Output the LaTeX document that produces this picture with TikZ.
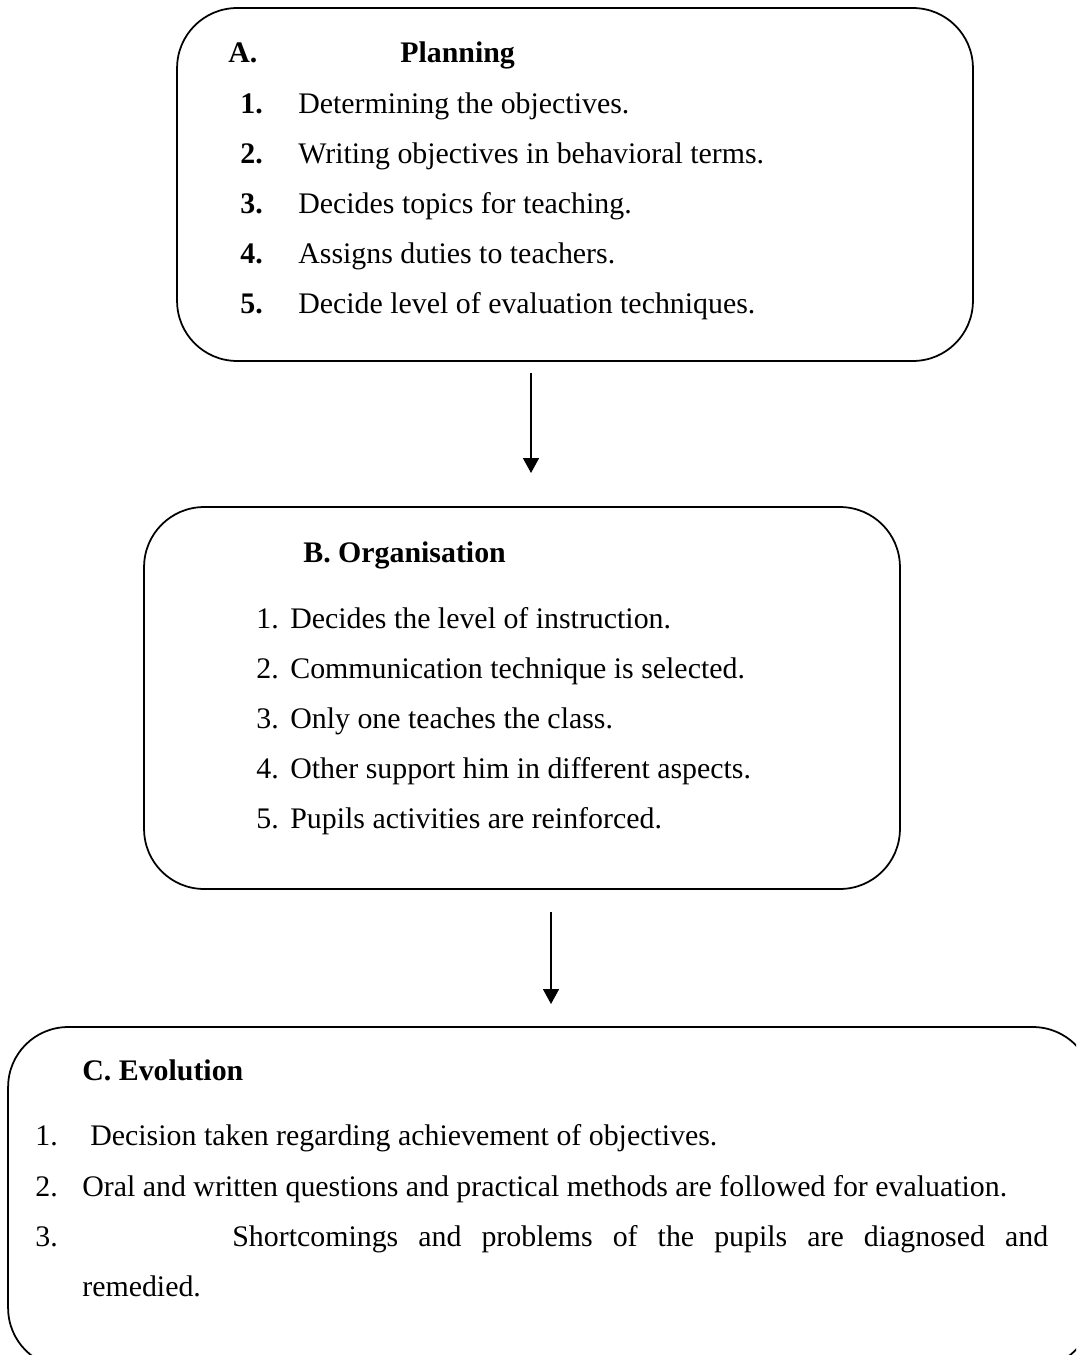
\documentclass[tikz,border=0pt]{standalone}
\usepackage{fontspec}
\setmainfont{Liberation Serif}
\usetikzlibrary{arrows.meta}
\tikzset{
    box/.style={draw, rectangle, rounded corners=1.2cm, line width=1pt, inner sep=0pt},
    item/.style={anchor=base west, inner sep=0pt, font=\fontsize{17}{20}\selectfont},
    head/.style={item, font=\fontsize{17}{20}\selectfont\bfseries},
    arrow/.style={line width=0.9pt, -{Triangle[length=0.3cm, width=0.32cm]}}
}
\begin{document}
\begin{tikzpicture}[x=0.02cm, y=-0.02cm]
\useasboundingbox (0,0) rectangle (1076,1355);
\clip (0,0) rectangle (1076,1355);
% boxes
\node[box, minimum width=15.92cm, minimum height=7.06cm] (plan) at (575,184.5) {};
\node[box, minimum width=15.12cm, minimum height=7.64cm] (org) at (522,698) {};
\node[box, minimum width=21.7cm, minimum height=6.82cm] (evol) at (550.5,1197.5) {};
% A. Planning
\node[head] (planA) at (228,63) {A.};
\node[head] (planT) at (400,63) {Planning};
\foreach \t [count=\i] in {Determining the objectives.,
    Writing objectives in behavioral terms.,
    Decides topics for teaching.,
    Assigns duties to teachers.,
    Decide level of evaluation techniques.} {
  \node[head] (planN\i) at (240,63+50*\i) {\i.};
  \node[item] (plan\i) at (298,63+50*\i) {\t};
}
% B. Organisation
\node[head] (orgT) at (303,562) {B. Organisation};
\foreach \t [count=\i] in {Decides the level of instruction.,
    Communication technique is selected.,
    Only one teaches the class.,
    Other support him in different aspects.,
    Pupils activities are reinforced.} {
  \node[item] (orgN\i) at (256,578+50*\i) {\i.};
  \node[item] (org\i) at (290,578+50*\i) {\t};
}
% C. Evolution
\node[head] (evolT) at (82,1080) {C. Evolution};
\node[item] (evolN1) at (35,1145) {1.};
\node[item] (evol1) at (90,1145) {Decision taken regarding achievement of objectives.};
\node[item] (evolN2) at (35,1196) {2.};
\node[item] (evol2) at (82,1196) {Oral and written questions and practical methods are followed for evaluation.};
\node[item] (evolN3) at (35,1246) {3.};
\node[item] (evol3) at (232,1246) {\makebox[16.32cm][s]{Shortcomings and problems of the pupils are diagnosed and}};
\node[item] (evol4) at (82,1296) {remedied.};
% connectors
\coordinate (planout) at (531,373);
\coordinate (orgin) at (531,473);
\coordinate (orgout) at (551,912);
\coordinate (evolin) at (551,1004);
\draw[arrow] (planout) -- (orgin);
\draw[arrow] (orgout) -- (evolin);
\end{tikzpicture}
\end{document}
